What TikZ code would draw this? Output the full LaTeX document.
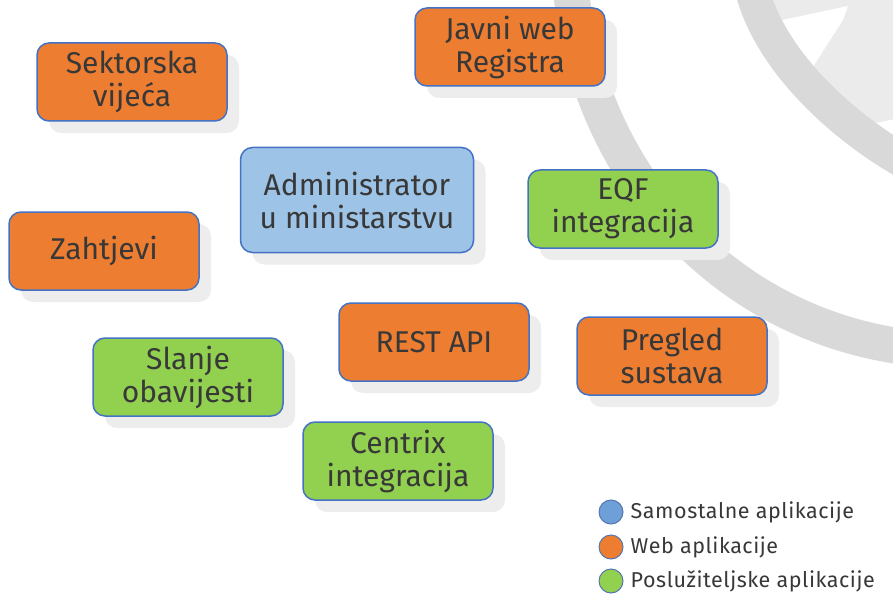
\documentclass[tikz,border=0pt]{standalone}
\usepackage{fontspec}
\setmainfont{Fira Sans}
\usepackage{tikz}
\usetikzlibrary{positioning,shadows}
\definecolor{weborange}{HTML}{ED7D31}
\definecolor{servgreen}{HTML}{92D050}
\definecolor{adminblue}{HTML}{9DC3E6}
\definecolor{legblue}{HTML}{6F9FD8}
\definecolor{edgeblue}{HTML}{4472C4}
\definecolor{textgray}{HTML}{383838}
\definecolor{bandgray}{HTML}{D9D9D9}
\definecolor{lightgray}{HTML}{EBEBEB}

\begin{document}
\begin{tikzpicture}[x=1pt, y=-1pt,
    box/.style={draw=edgeblue, line width=1.5pt, rounded corners=12pt,
                minimum width=190pt, minimum height=78pt, align=center,
                text=textgray, font=\fontsize{30}{33}\selectfont,
                drop shadow={shadow xshift=12pt, shadow yshift=-12pt,
                             fill=black!7, opacity=1}},
    web/.style={box, fill=weborange},
    srv/.style={box, fill=servgreen},
    legdot/.style={circle, draw=edgeblue!70!gray, line width=1pt,
                   minimum size=24pt, inner sep=0pt},
    legtxt/.style={text=textgray,
                   font=\fontsize{21.5}{24}\selectfont\addfontfeature{LetterSpace=2.5},
                   inner sep=0pt}
  ]
  \useasboundingbox (0,0) rectangle (893,596);
  % Background watermark
  \begin{scope}
    \clip (0,0) rectangle (893,596);
    \fill[lightgray] (760,-5) -- (900,-5) -- (900,118) -- (860,126)
      -- (790,70) -- cycle;
    \fill[white] (773,22) -- (848,6) -- (843,20) -- (807,76) -- (780,40) -- cycle;
    \draw[bandgray, line width=34pt] (752,-10) .. controls (770,60) and (840,125) .. (905,162);
    \draw[bandgray, line width=36pt] (571,-10) .. controls (588,170) and (720,322) .. (905,347);
  \end{scope}
  % Web applications
  \node[web] (sektor) at (132,82) {Sektorska\\vijeća};
  \node[web] (javni) at (510,47) {Javni web\\Registra};
  \node[web] (zahtjevi) at (104,251) {Zahtjevi};
  \node[web] (rest) at (434,342) {REST API};
  \node[web] (pregled) at (672,356) {Pregled\\sustava};
  % Standalone application
  \node[box, fill=adminblue, minimum width=233pt, minimum height=105pt]
    (admin) at (357,200) {Administrator\\u ministarstvu};
  % Server applications
  \node[srv] (eqf) at (623,209) {EQF\\integracija};
  \node[srv] (slanje) at (188,377) {Slanje\\obavijesti};
  \node[srv] (centrix) at (398,461) {Centrix\\integracija};
  % Legend
  \node[legdot, fill=legblue] (dotsam) at (611,512) {};
  \node[legdot, fill=weborange] (dotweb) at (611,547) {};
  \node[legdot, fill=servgreen] (dotsrv) at (611,581) {};
  \node[legtxt, right=7pt of dotsam] (legsam) {Samostalne aplikacije};
  \node[legtxt, right=7pt of dotweb] (legweb) {Web aplikacije};
  \node[legtxt, right=7pt of dotsrv] (legsrv) {Poslužiteljske aplikacije};
\end{tikzpicture}
\end{document}
